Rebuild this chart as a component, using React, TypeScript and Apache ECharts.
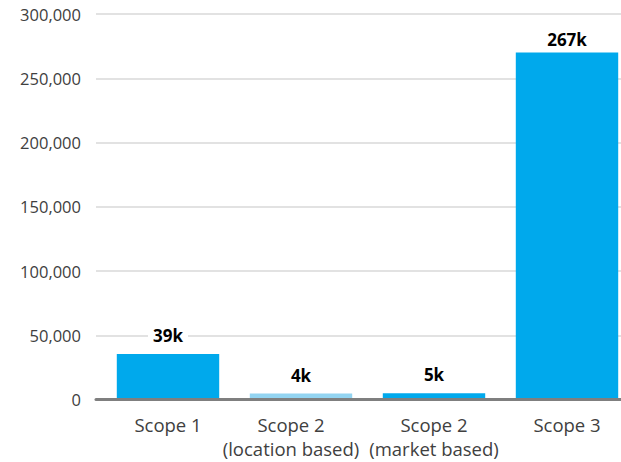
import React, { useEffect, useRef } from "react";
import * as echarts from "echarts";

const categories = ["Scope 1", "Scope 2\n(location based)", "Scope 2\n(market based)", "Scope 3"];
const values = [35400, 4600, 4900, 270000];
const valueLabels = ["39k", "4k", "5k", "267k"];
const barColors = ["#00A9EC", "#93D4F1", "#00A9EC", "#00A9EC"];
const yMin = 0;
const yMax = 300000;
const yInterval = 50000;

const FONT = "'Open Sans', sans-serif";

export default function App() {
  const ref = useRef<HTMLDivElement>(null);
  useEffect(() => {
    if (!ref.current) return;
    const chart = echarts.init(ref.current, undefined, { renderer: "svg" });
    const categoryData = categories.map((c, i) =>
      i === 1 ? { value: c, textStyle: { padding: [0, 20, 0, 0] } } : c
    );
    const option = {
      animation: false,
      backgroundColor: "#ffffff",
      grid: [
        { left: 96, right: 19, top: 14, bottom: 62.5 },
        { left: 101.5, width: 532, top: 14, bottom: 62.5 },
      ],
      xAxis: [
        {
          gridIndex: 0,
          type: "category",
          data: categories,
          z: 5,
          axisLine: { show: true, lineStyle: { color: "#7F7F7F", width: 3 } },
          axisTick: { show: false },
          axisLabel: { show: false },
          splitLine: { show: false },
        },
        {
          gridIndex: 1,
          type: "category",
          data: categoryData,
          axisLine: { show: false },
          axisTick: { show: false },
          axisLabel: {
            color: "#404040",
            fontFamily: FONT,
            fontSize: 18.5,
            lineHeight: 24,
            margin: 13,
            interval: 0,
          },
        },
      ],
      yAxis: [
        {
          gridIndex: 0,
          type: "value",
          min: yMin,
          max: yMax,
          interval: yInterval,
          axisLine: { show: false },
          axisTick: { show: false },
          axisLabel: {
            color: "#404040",
            fontFamily: FONT,
            fontSize: 16.5,
            margin: 15,
            formatter: (v: number) => v.toLocaleString("en-US"),
          },
          splitLine: { lineStyle: { color: "#D9D9D9", width: 1.5 } },
        },
        {
          gridIndex: 1,
          type: "value",
          min: yMin,
          max: yMax,
          interval: yInterval,
          show: false,
          splitLine: { show: false },
        },
      ],
      series: [
        {
          type: "bar",
          xAxisIndex: 1,
          yAxisIndex: 1,
          barCategoryGap: "23%",
          data: values.map((v, i) => ({
            value: v,
            itemStyle: { color: barColors[i] },
            label: i === 3 ? { offset: [0, 5] } : undefined,
          })),
          label: {
            show: true,
            position: "top",
            distance: 10,
            color: "#000000",
            fontFamily: FONT,
            fontWeight: "bold",
            fontSize: 17,
            backgroundColor: "#ffffff",
            padding: [0, 5],
            formatter: (p: any) => valueLabels[p.dataIndex],
          },
        },
      ],
    };
    chart.setOption(option);
    return () => chart.dispose();
  }, []);
  return (
    <div
      style={{
        position: "fixed",
        left: 0,
        top: 0,
        width: 621,
        height: 462,
        overflow: "hidden",
        background: "#ffffff",
      }}
    >
      <div ref={ref} style={{ width: 640, height: 462 }} />
    </div>
  );
}
